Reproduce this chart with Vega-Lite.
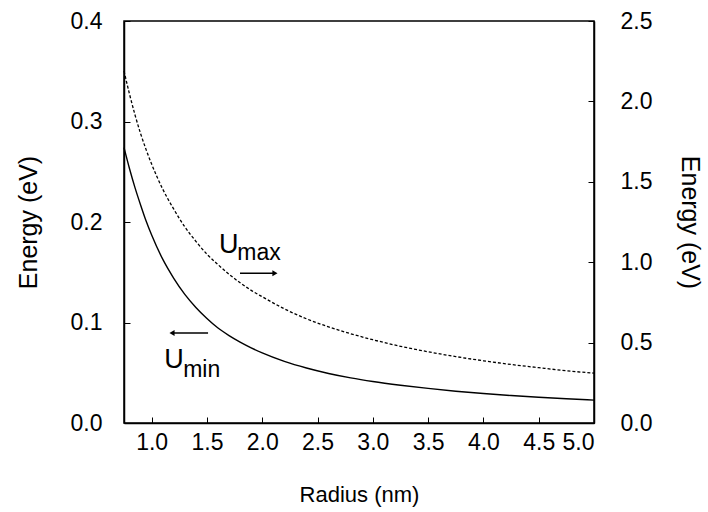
{
  "$schema": "https://vega.github.io/schema/vega-lite/v6.json",
  "width": 470,
  "height": 402,
  "autosize": "none",
  "padding": {"left": 124, "top": 21, "right": 114, "bottom": 89},
  "background": "white",
  "config": {
    "view": {"stroke": "black", "strokeWidth": 1.5},
    "axis": {"labelFont": "Liberation Sans", "titleFont": "Liberation Sans Narrow, Liberation Sans", "labelColor": "black", "titleColor": "black", "domainColor": "black", "tickColor": "black", "grid": false, "titleFontWeight": "normal"}
  },
  "datasets": {
    "umin": [
      {"r": 0.75, "e": 0.274}, {"r": 0.8, "e": 0.253}, {"r": 0.85, "e": 0.234}, {"r": 0.9, "e": 0.217},
      {"r": 0.95, "e": 0.201}, {"r": 1.0, "e": 0.187}, {"r": 1.1, "e": 0.163}, {"r": 1.2, "e": 0.144},
      {"r": 1.3, "e": 0.128}, {"r": 1.4, "e": 0.115}, {"r": 1.5, "e": 0.104}, {"r": 1.6, "e": 0.0945},
      {"r": 1.7, "e": 0.087}, {"r": 1.8, "e": 0.0805}, {"r": 1.9, "e": 0.0748}, {"r": 2.0, "e": 0.0697},
      {"r": 2.2, "e": 0.0613}, {"r": 2.4, "e": 0.0547}, {"r": 2.6, "e": 0.0493}, {"r": 2.8, "e": 0.0449},
      {"r": 3.0, "e": 0.0413}, {"r": 3.25, "e": 0.0376}, {"r": 3.5, "e": 0.0344}, {"r": 3.75, "e": 0.0316},
      {"r": 4.0, "e": 0.0293}, {"r": 4.25, "e": 0.0273}, {"r": 4.5, "e": 0.0256}, {"r": 4.75, "e": 0.0241},
      {"r": 5.0, "e": 0.0228}
    ],
    "umax": [
      {"r": 0.75, "e": 2.19}, {"r": 0.8, "e": 2.045}, {"r": 0.85, "e": 1.915}, {"r": 0.9, "e": 1.8},
      {"r": 0.95, "e": 1.7}, {"r": 1.0, "e": 1.61}, {"r": 1.1, "e": 1.455}, {"r": 1.2, "e": 1.33},
      {"r": 1.3, "e": 1.22}, {"r": 1.4, "e": 1.13}, {"r": 1.5, "e": 1.05}, {"r": 1.6, "e": 0.985},
      {"r": 1.7, "e": 0.925}, {"r": 1.8, "e": 0.872}, {"r": 1.9, "e": 0.825}, {"r": 2.0, "e": 0.785},
      {"r": 2.2, "e": 0.71}, {"r": 2.4, "e": 0.648}, {"r": 2.6, "e": 0.598}, {"r": 2.8, "e": 0.555},
      {"r": 3.0, "e": 0.518}, {"r": 3.25, "e": 0.477}, {"r": 3.5, "e": 0.443}, {"r": 3.75, "e": 0.413},
      {"r": 4.0, "e": 0.387}, {"r": 4.25, "e": 0.364}, {"r": 4.5, "e": 0.344}, {"r": 4.75, "e": 0.325},
      {"r": 5.0, "e": 0.31}
    ],
    "labels": [
      {"r": 1.61, "e": 0.169, "t": "U", "kind": "main"},
      {"r": 1.775, "e": 0.162, "t": "max", "kind": "sub"},
      {"r": 1.115, "e": 0.0547, "t": "U", "kind": "main"},
      {"r": 1.285, "e": 0.0458, "t": "min", "kind": "sub"}
    ],
    "arrows": [
      {"r1": 1.799, "r2": 2.115, "e": 0.149, "dir": "right"},
      {"r1": 1.184, "r2": 1.51, "e": 0.0896, "dir": "left"}
    ]
  },
  "layer": [
    {
      "layer": [
        {
          "data": {"name": "umin"},
          "mark": {"type": "line", "color": "black", "strokeWidth": 1.4, "interpolate": "monotone"},
          "encoding": {
            "x": {"field": "r", "type": "quantitative", "scale": {"domain": [0.75, 5.0], "nice": false, "zero": false},
              "axis": {"title": "Radius (nm)", "values": [1, 1.5, 2, 2.5, 3, 3.5, 4, 4.5, 5], "format": ".1f", "tickSize": -6, "labelPadding": 14, "labelFontSize": 23, "titleFontSize": 22, "titleFont": "Liberation Sans", "titlePadding": 30, "domainWidth": 1.5}},
            "y": {"field": "e", "type": "quantitative", "scale": {"domain": [0, 0.4], "nice": false},
              "axis": {"title": "Energy (eV)", "values": [0, 0.1, 0.2, 0.3, 0.4], "format": ".1f", "tickSize": -6, "labelPadding": 28, "labelFontSize": 23, "titleFontSize": 25, "titlePadding": 29, "domainWidth": 1.5}}
          }
        },
        {
          "data": {"name": "labels"},
          "transform": [{"filter": "datum.kind == 'main'"}],
          "mark": {"type": "text", "align": "left", "baseline": "alphabetic", "fontSize": 27, "font": "Liberation Sans Narrow, Liberation Sans", "color": "black"},
          "encoding": {
            "x": {"field": "r", "type": "quantitative"},
            "y": {"field": "e", "type": "quantitative"},
            "text": {"field": "t"}
          }
        },
        {
          "data": {"name": "labels"},
          "transform": [{"filter": "datum.kind == 'sub'"}],
          "mark": {"type": "text", "align": "left", "baseline": "alphabetic", "fontSize": 23, "font": "Liberation Sans Narrow, Liberation Sans", "color": "black"},
          "encoding": {
            "x": {"field": "r", "type": "quantitative"},
            "y": {"field": "e", "type": "quantitative"},
            "text": {"field": "t"}
          }
        },
        {
          "data": {"name": "arrows"},
          "mark": {"type": "rule", "color": "black", "strokeWidth": 1.4},
          "encoding": {
            "x": {"field": "r1", "type": "quantitative"},
            "x2": {"field": "r2"},
            "y": {"field": "e", "type": "quantitative"}
          }
        },
        {
          "data": {"name": "arrows"},
          "transform": [{"filter": "datum.dir == 'right'"}],
          "mark": {"type": "point", "shape": "triangle-right", "filled": true, "color": "black", "size": 35, "opacity": 1},
          "encoding": {
            "x": {"field": "r2", "type": "quantitative"},
            "y": {"field": "e", "type": "quantitative"}
          }
        },
        {
          "data": {"name": "arrows"},
          "transform": [{"filter": "datum.dir == 'left'"}],
          "mark": {"type": "point", "shape": "triangle-left", "filled": true, "color": "black", "size": 35, "opacity": 1},
          "encoding": {
            "x": {"field": "r1", "type": "quantitative"},
            "y": {"field": "e", "type": "quantitative"}
          }
        }
      ]
    },
    {
      "data": {"name": "umax"},
      "mark": {"type": "line", "color": "black", "strokeWidth": 1.3, "strokeDash": [3, 2], "interpolate": "monotone"},
      "encoding": {
        "x": {"field": "r", "type": "quantitative"},
        "y": {"field": "e", "type": "quantitative", "scale": {"domain": [0, 2.5], "nice": false},
          "axis": {"orient": "right", "title": "Energy (eV)", "values": [0, 0.5, 1, 1.5, 2, 2.5], "format": ".1f", "tickSize": -6, "labelPadding": 32, "labelFontSize": 23, "titleFontSize": 25, "titlePadding": 25, "domainWidth": 1.5}}
      }
    }
  ],
  "resolve": {"scale": {"y": "independent"}}
}
